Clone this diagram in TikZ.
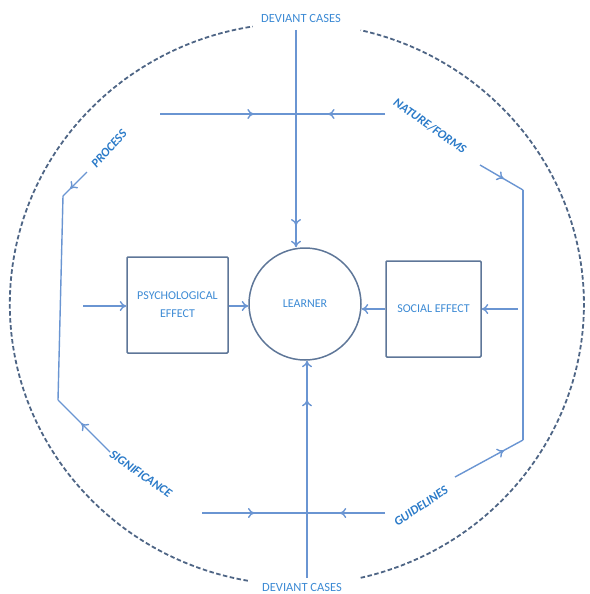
\documentclass[tikz,border=0pt]{standalone}
\usepackage{fontspec}
\setmainfont{Carlito}
\usetikzlibrary{arrows.meta,decorations.markings}
\definecolor{lineblue}{HTML}{6A95D2}
\definecolor{boxblue}{HTML}{5E7698}
\definecolor{ringblue}{HTML}{4E6585}
\definecolor{textblue}{HTML}{3C8AD4}
\definecolor{labelblue}{HTML}{2A7AC8}
\tikzset{
  flow/.style={draw=lineblue, line width=1.4pt},
  tip/.style={-{To[length=6.5pt,width=10pt]}},
  midtip/.style={postaction={decorate},
    decoration={markings, mark=at position #1 with {\arrow{To[length=6.5pt,width=10pt]}}}},
  effectbox/.style={draw=boxblue, line width=1.5pt, rounded corners=1pt,
    align=center, text=textblue, font=\fontsize{12}{18}\selectfont},
  core/.style={circle, draw=boxblue, line width=1.5pt, minimum size=112pt,
    text=textblue, font=\fontsize{12}{14}\selectfont},
  plain/.style={text=textblue, font=\fontsize{12.5}{14}\selectfont, inner sep=1pt},
  tag/.style={text=labelblue, font=\fontsize{12.5}{14}\selectfont\bfseries\itshape, inner sep=1pt},
  ring/.style={ringblue, line width=1.8pt, dash pattern=on 4.5pt off 2.5pt},
}
\begin{document}
\begin{tikzpicture}[x=1pt,y=-1pt]
\useasboundingbox (0,0) rectangle (589,594);

% outer dashed ring, open at top and bottom for the labels
\draw[ring]
  (297,304) ++(100:283 and 281) arc[start angle=100, end angle=261, x radius=288, y radius=281];
\draw[ring]
  (297,304) ++(77:283 and 281) arc[start angle=77, end angle=-77, x radius=288, y radius=281];

% central nodes
\node[core] (learner) at (305,304) {LEARNER};
\node[effectbox, minimum width=101pt, minimum height=96pt] (psych) at (177.5,305)
  {PSYCHOLOGICAL\\EFFECT};
\node[effectbox, minimum width=95pt, minimum height=96pt] (social) at (433.5,309)
  {SOCIAL EFFECT};

% ring labels
\node[plain] (devtop) at (301,18) {DEVIANT CASES};
\node[plain] (devbot) at (302,587) {DEVIANT CASES};
\node[tag, rotate=48] (process) at (109,149) {PROCESS};
\node[tag, rotate=-35] (nature) at (430,126) {NATURE/FORMS};
\node[tag, rotate=-35] (signif) at (141,474) {SIGNIFICANCE};
\node[tag, rotate=34] (guide) at (421,506) {GUIDELINES};

% top cross
\coordinate (tl) at (160,114);
\coordinate (tr) at (385,114);
\coordinate (tj) at (296,114);
\coordinate (tv) at (296,30);
\draw[flow, midtip=0.69] (tl) -- (tj);
\draw[flow, midtip=0.64] (tr) -- (tj);
\draw[flow, tip, midtip=0.9] (tv) -- (learner.north -| tj);

% bottom cross
\coordinate (bl) at (202,513);
\coordinate (br) at (385,513);
\coordinate (bj) at (307,513);
\coordinate (bv) at (307,578);
\draw[flow, midtip=0.5] (bl) -- (bj);
\draw[flow, midtip=0.58] (br) -- (bj);
\draw[flow, tip, midtip=0.82] (bv) -- (learner.south -| bj);

% left loop
\coordinate (lt) at (63,196);
\coordinate (lb) at (58,400);
\coordinate (lp) at (87,172);
\coordinate (ls) at (110,452);
\coordinate (lin) at (83,306);
\draw[flow, midtip=0.7] (lp) -- (lt);
\draw[flow] (lt) -- (lb);
\draw[flow, midtip=0.55] (ls) -- (lb);
\draw[flow, tip] (lin) -- (psych.west |- lin);
\draw[flow, tip] (psych.east |- lin) -- (learner.west |- lin);

% right loop
\coordinate (rt) at (523,190);
\coordinate (rb) at (523,440);
\coordinate (rn) at (480,165);
\coordinate (rg) at (455,477);
\coordinate (rin) at (518,309);
\draw[flow, midtip=0.55] (rn) -- (rt);
\draw[flow] (rt) -- (rb);
\draw[flow, midtip=0.72] (rg) -- (rb);
\draw[flow, tip] (rin) -- (social.east |- rin);
\draw[flow, tip] (social.west |- rin) -- (learner.east |- rin);
\end{tikzpicture}
\end{document}
